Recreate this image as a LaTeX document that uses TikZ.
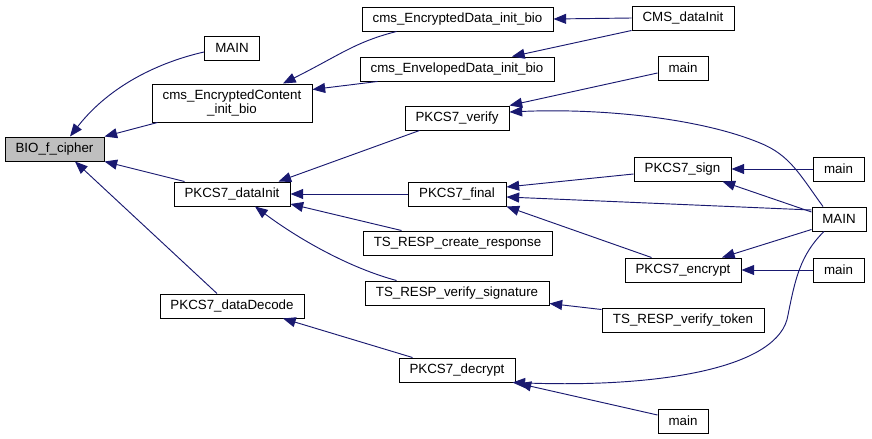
\documentclass[tikz,border=0pt]{standalone}
\usepackage{fontspec}
\setmainfont{Liberation Sans}
\usetikzlibrary{arrows.meta,calc}
\definecolor{edgec}{RGB}{25,25,112}
\definecolor{hl}{RGB}{191,191,191}
\begin{document}
\begin{tikzpicture}[x=0.75pt,y=-0.75pt,
 fn/.style={draw=black,line width=0.75pt,fill=white,inner sep=0pt,font=\fontsize{10}{11}\selectfont,align=center},
 bw/.style={minimum width={#1*0.75pt}},
 bh/.style={minimum height={#1*0.75pt}},
 edge/.style={draw=edgec,line width=0.7pt,-{Triangle[length=9.5pt,width=7.5pt]}},
]
\path[use as bounding box] (0,0) rectangle (872,439);
% nodes
\node[fn,fill=hl,bw=99,bh=24] (bio) at (54.5,149) {BIO\_f\_cipher};
\node[fn,bw=55,bh=24] (mainT) at (232,48) {MAIN};
\node[fn,bw=160,bh=38] (ecib) at (232,103) {cms\_EncryptedContent\\\_init\_bio};
\node[fn,bw=116,bh=24] (dinit) at (232,194) {PKCS7\_dataInit};
\node[fn,bw=144,bh=24] (ddec) at (232,306) {PKCS7\_dataDecode};
\node[fn,bw=191,bh=24] (edib) at (457.5,19) {cms\_EncryptedData\_init\_bio};
\node[fn,bw=194,bh=24] (envib) at (457,69) {cms\_EnvelopedData\_init\_bio};
\node[fn,bw=104,bh=24] (verify) at (457,118) {PKCS7\_verify};
\node[fn,bw=98,bh=24] (final) at (457,194) {PKCS7\_final};
\node[fn,bw=189,bh=24] (create) at (457.5,243) {TS\_RESP\_create\_response};
\node[fn,bw=184,bh=24] (vsig) at (457,293) {TS\_RESP\_verify\_signature};
\node[fn,bw=116,bh=24] (decrypt) at (457,370) {PKCS7\_decrypt};
\node[fn,bw=102,bh=24] (cmsdi) at (683,18) {CMS\_dataInit};
\node[fn,bw=50,bh=24] (mainV) at (683,68) {main};
\node[fn,bw=97,bh=24] (sign) at (682.5,169) {PKCS7\_sign};
\node[fn,bw=116,bh=24] (encrypt) at (683,270) {PKCS7\_encrypt};
\node[fn,bw=162,bh=24] (vtoken) at (683,320) {TS\_RESP\_verify\_token};
\node[fn,bw=50,bh=24] (mainB) at (683,421) {main};
\node[fn,bw=51,bh=24] (mainS) at (838.5,169) {main};
\node[fn,bw=54,bh=24] (MAINR) at (839,219) {MAIN};
\node[fn,bw=51,bh=24] (mainE) at (838.5,270) {main};
% edges
\draw[edge] ($(mainT.west)+(0,4)$) .. controls (160,62) and (110,85) .. ($(bio.north)+(15.5,0)$);
\draw[edge] ($(ecib.south west)+(6,0)$) -- (bio.north east);
\draw[edge] ($(dinit.north west)+(11,0)$) -- (bio.south east);
\draw[edge] ($(ddec.north)+(-15,0)$) -- ($(bio.south)+(20.5,0)$);
\draw[edge] ($(edib.south west)+(35,0)$) .. controls (355,42) and (340,55) .. ($(ecib.north)+(51,0)$);
\draw[edge] ($(envib.south west)+(18,0)$) -- ($(ecib.north east)+(0,6)$);
\draw[edge] (cmsdi.west) -- (edib.east);
\draw[edge] (cmsdi.south west) -- ($(envib.north)+(55,0)$);
\draw[edge] ($(mainV.west)+(0,5)$) -- (verify.north east);
\draw[edge] ($(MAINR.north)+(-16,0)$) .. controls (800,175) and (790,155) .. (760,143) .. controls (700,118) and (600,108) .. ($(verify.east)+(0,-6)$);
\draw[edge] ($(verify.south west)+(15,0)$) -- ($(dinit.north east)+(-12,0)$);
\draw[edge] (final.west) -- (dinit.east);
\draw[edge] ($(create.north west)+(39,0)$) -- ($(dinit.east)+(0,10)$);
\draw[edge] ($(vsig.north west)+(32,0)$) .. controls (350,268) and (300,240) .. ($(dinit.south)+(23,0)$);
\draw[edge] ($(sign.west)+(0,5)$) -- ($(final.east)+(0,-7)$);
\draw[edge] ($(MAINR.west)+(0,-9)$) -- ($(final.east)+(0,3)$);
\draw[edge] ($(encrypt.north west)+(27,0)$) -- (final.south east);
\draw[edge] (mainS.west) -- (sign.east);
\draw[edge] ($(MAINR.west)+(0,-7)$) -- ($(sign.south)+(40,0)$);
\draw[edge] ($(MAINR.south west)+(0,-2)$) -- ($(encrypt.north)+(39,0)$);
\draw[edge] (mainE.west) -- (encrypt.east);
\draw[edge] ($(vtoken.north west)+(0,2)$) -- ($(vsig.south east)+(0,-2)$);
\draw[edge] ($(decrypt.north west)+(14,0)$) -- ($(ddec.south)+(51,0)$);
\draw[edge] ($(MAINR.south)+(-15,0)$) .. controls (800,255) and (795,280) .. (788,315) .. controls (780,368) and (660,388) .. ($(decrypt.south east)+(-3,0)$);
\draw[edge] ($(mainB.west)+(0,-6)$) -- ($(decrypt.south east)+(3,1)$);
\end{tikzpicture}
\end{document}
